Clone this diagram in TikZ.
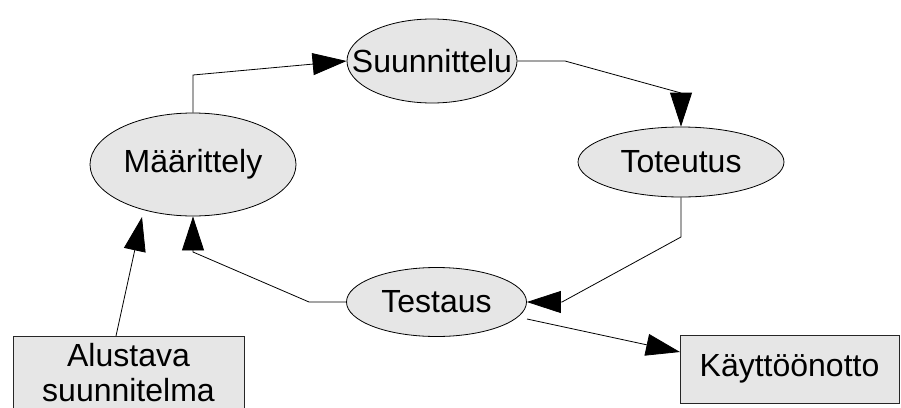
\documentclass[tikz,border=0pt]{standalone}
\usepackage{fontspec}
\setmainfont{Liberation Sans}
\usetikzlibrary{arrows.meta,shapes.geometric}
\definecolor{boxfill}{RGB}{230,230,230}
\tikzset{
  bigtext/.style={font=\fontsize{32}{36.5}\selectfont},
  % ellipse of fixed size, its name set in the middle
  phase/.style={ellipse, draw=black, line width=0.8pt, fill=boxfill,
    inner sep=0pt, label={[bigtext]center:#1}},
  doc/.style={rectangle, draw=black!85, line width=0.8pt, fill=boxfill,
    inner sep=0pt, align=center, bigtext},
  flow/.style={draw=black, line width=0.8pt,
    -{Triangle[length=34pt,width=22pt]}}
}
\begin{document}
\begin{tikzpicture}[x=1pt,y=-1pt]
\useasboundingbox (0,0) rectangle (901,407);

% phases of the cycle
\node[phase=Suunnittelu, minimum width=170pt, minimum height=84pt] (suun) at (432,61) {};
\node[phase=Toteutus, minimum width=206pt, minimum height=70pt] (tot) at (681,162) {};
\node[phase=Määrittely, minimum width=206pt, minimum height=103pt] (maar) at (193,164.5) {};
\node[phase=Testaus, minimum width=180pt, minimum height=69pt] (test) at (436.5,302) {};

% documents entering and leaving the cycle
\node[doc, minimum width=231pt, minimum height=73pt] (alus) at (128.5,372.5) {Alustava\\[-1pt]suunnitelma};
\node[doc, minimum width=219pt, minimum height=68pt] (kayt) at (789.5,369) {Käyttöönotto};

% bends and free ends of the connectors
\coordinate (b1) at (193,75);
\coordinate (b2) at (565,61);
\coordinate (b3) at (681,93);
\coordinate (b4) at (681,237);
\coordinate (b5) at (562,302);
\coordinate (b6) at (309,302);
\coordinate (b7) at (193,252);
\coordinate (alusout) at (116,336);
\coordinate (maarin) at (142,217);
\coordinate (testout) at (527,319);
\coordinate (kaytin) at (680,352);

% the cycle
\draw[flow] (maar.north) -- (b1) -- (suun.west);
\draw[flow] (suun.east) -- (b2) -- (b3) -- (tot.north);
\draw[flow] (tot.south) -- (b4) -- (b5) -- (test.east);
\draw[flow] (test.west) -- (b6) -- (b7) -- (maar.south);

% input and output
\draw[flow] (alusout) -- (maarin);
\draw[flow] (testout) -- (kaytin);
\end{tikzpicture}
\end{document}
